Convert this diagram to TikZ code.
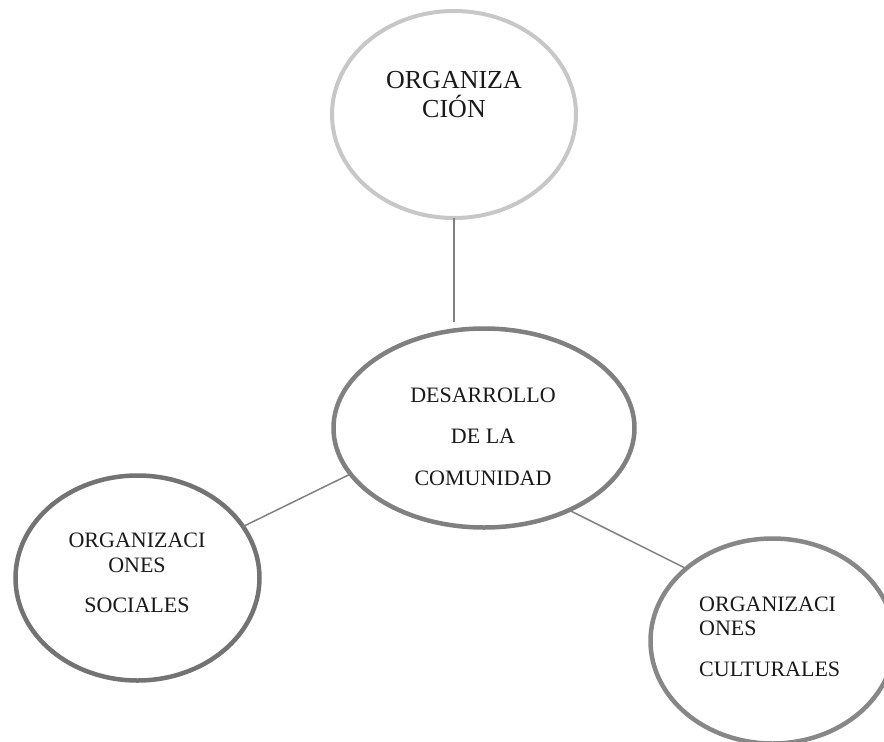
\documentclass[tikz,border=0pt]{standalone}
\usepackage{fontspec}
\setmainfont{Liberation Serif}
\usepackage{xcolor}
\usepackage{tikz}
\usetikzlibrary{shapes.geometric}
\tikzset{
    bubble/.style={ellipse, draw=black!50, line width=4.5pt, outer sep=0pt, inner sep=0pt,
        minimum width=244pt, minimum height=205pt},
    word/.style={anchor=base, inner sep=0pt, text=black!90, font=\fontsize{22}{26}\selectfont},
    bigword/.style={word, font=\fontsize{26}{30}\selectfont}
}

\begin{document}
\begin{tikzpicture}[x=1pt,y=-1pt,link/.style={draw=black!50, line width=1.5pt}]
		\useasboundingbox (0,0) rectangle (884,742);

		% top
		\node[bubble, draw=black!22, line width=4pt, minimum height=207pt] (org) at (454,114.5) {};
	    \node[bigword] (orgA) at (454,88) {ORGANIZA};
	    \node[bigword] (orgB) at (454,117) {CIÓN};

		% middle
		\node[bubble, minimum width=301pt, minimum height=199pt] (des) at (484,428) {};
	    \node[word] (desA) at (483,402) {DESARROLLO};
	    \node[word] (desB) at (483,443) {DE LA};
	    \node[word] (desC) at (483,485) {COMUNIDAD};

		% left
		\node[bubble, draw=black!55] (soc) at (137.5,578) {};
	    \node[word] (socA) at (137,547) {ORGANIZACI};
	    \node[word] (socB) at (137,572) {ONES};
	    \node[word] (socC) at (137,612) {SOCIALES};

		% right
		\node[bubble, draw=black!47] (cul) at (772.5,641) {};
	    \node[word, anchor=base west] (culA) at (699,611) {ORGANIZACI};
	    \node[word, anchor=base west] (culB) at (699,635) {ONES};
	    \node[word, anchor=base west] (culC) at (699,676) {CULTURALES};

		% links
		\draw[link, shorten >=7pt] (org.south) -- (org.south |- des.north);
		\draw[link] (soc.26.7) -- (des.199.3);
		\draw[link] (des.316.9) -- (cul.140.4);
    \end{tikzpicture}
\end{document}
